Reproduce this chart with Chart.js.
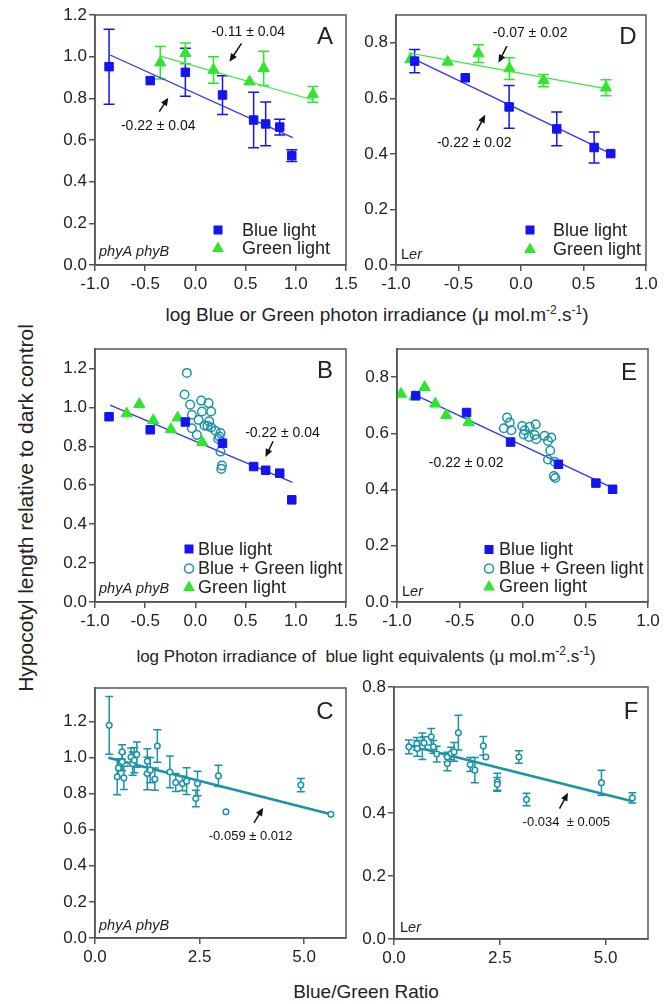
<!DOCTYPE html>
<html>
<head>
<meta charset="utf-8">
<script src="https://cdn.jsdelivr.net/npm/chart.js@4.4.1/dist/chart.umd.min.js"></script>
<style>
  body { margin: 0; background: #fff; }
  #page { position: relative; width: 664px; height: 1004px; overflow: hidden;
          font-family: "Liberation Sans", Arial, sans-serif; color: #222; }
  #page canvas { position: absolute; }
  .title { position: absolute; white-space: nowrap; transform: translate(-50%, -50%);
           font-size: 19px; line-height: 1; }
  .title sup { font-size: 12px; vertical-align: 7px; line-height: 0; }
  #ytitle { transform: translate(-50%, -50%) rotate(-90deg); font-size: 21px; }
</style>
</head>
<body>
<div id="page">
  <div class="title" id="ytitle" style="left:25px; top:508px">Hypocotyl length relative to dark control</div>
  <div class="title" style="left:377px; top:314px">log Blue or Green photon irradiance (μ mol.m<sup>-2</sup>.s<sup>-1</sup>)</div>
  <div class="title" style="left:366px; top:656px; font-size:17px">log Photon irradiance of&nbsp; blue light equivalents (μ mol.m<sup>-2</sup>.s<sup>-1</sup>)</div>
  <div class="title" style="left:366px; top:991px">Blue/Green Ratio</div>
</div>
<script>
// ---- data ----
// A + B, phyA phyB, blue light
const xBlueAB = [-0.86, -0.45, -0.10, 0.27, 0.58, 0.70, 0.84, 0.96];
const yBlueAB = [0.952, 0.885, 0.925, 0.816, 0.696, 0.677, 0.662, 0.525];
const eBlueA = [0.18, 0, 0.115, 0.093, 0.133, 0.105, 0.038, 0.028];
// A, green light
const xGreenA = [-0.35, -0.10, 0.18, 0.54, 0.68, 1.17];
const yGreenA = [0.971, 1.016, 0.936, 0.880, 0.944, 0.819];
const eGreenA = [0.078, 0.05, 0.064, 0, 0.082, 0.038];
// A fitted lines
const xFitBlueA = [-0.85, 0.97], yFitBlueA = [1.008, 0.611];
const xFitGreenA = [-0.35, 1.17], yFitGreenA = [1.003, 0.792];

// D + E, Ler, blue light
const xBlueDE = [-0.851, -0.446, -0.095, 0.286, 0.585, 0.718];
const yBlueDE = [0.734, 0.674, 0.569, 0.490, 0.423, 0.401];
const eBlueD = [0.042, 0, 0.077, 0.061, 0.056, 0];
// D, green light
const xGreenD = [-0.885, -0.587, -0.34, -0.093, 0.18, 0.68];
const yGreenD = [0.740, 0.731, 0.761, 0.707, 0.664, 0.638];
const eGreenD = [0, 0, 0.032, 0.039, 0.022, 0.029];
const xFitBlueD = [-0.851, 0.718], yFitBlueD = [0.740, 0.401];
const xFitGreenD = [-0.90, 0.686], yFitGreenD = [0.764, 0.634];

// B, green light and blue + green light
const xGreenB = [-0.685, -0.559, -0.42, -0.244, -0.177, 0.068];
const yGreenB = [0.968, 1.016, 0.933, 0.887, 0.947, 0.821];
const xMixB = [-0.085, -0.108, -0.052, 0.058, 0.131, -0.035, 0.065, 0.157, 0.032, 0.137, -0.035,
               0.091, 0.157, 0.015, 0.20, 0.25, 0.227, 0.25, 0.264, 0.257, 0.12, 0.24];
const yMixB = [1.177, 1.066, 1.014, 1.035, 1.022, 0.962, 0.979, 0.979, 0.936, 0.928, 0.893,
               0.907, 0.897, 0.859, 0.880, 0.868, 0.838, 0.773, 0.701, 0.684, 0.905, 0.850];
const xFitB = [-0.85, 0.967], yFitB = [1.012, 0.615];

// E, green light and blue + green light
const xGreenE = [-0.968, -0.86, -0.78, -0.695, -0.608, -0.43];
const yGreenE = [0.740, 0.730, 0.764, 0.705, 0.664, 0.639];
const xMixE = [-0.123, -0.102, -0.149, -0.089, -0.002, 0.017, 0.057, 0.105, 0.01, 0.052,
               0.097, 0.11, 0.176, 0.229, 0.203, 0.221, 0.203, 0.256, 0.25, 0.262];
const yMixE = [0.656, 0.638, 0.618, 0.611, 0.626, 0.611, 0.623, 0.632, 0.596, 0.587,
               0.594, 0.579, 0.591, 0.585, 0.573, 0.539, 0.507, 0.499, 0.448, 0.441];
const xFitE = [-0.86, 0.709], yFitE = [0.738, 0.408];

// C, phyA phyB, blue/green ratio
const xRatioC = [0.34, 0.53, 0.56, 0.65, 0.65, 0.69, 0.86, 0.90, 0.94, 1.00, 1.25, 1.25, 1.32,
                 1.43, 1.49, 1.79, 1.93, 2.09, 2.19, 2.45, 2.41, 2.95, 3.13, 4.92, 5.64];
const yRatioC = [1.178, 0.893, 0.942, 1.031, 0.976, 0.887, 1.003, 0.966, 0.985, 1.016, 0.979, 0.911, 0.930,
                 0.880, 1.064, 0.920, 0.861, 0.856, 0.869, 0.856, 0.773, 0.898, 0.699, 0.847, 0.685];
const eRatioC = [0.16, 0.10, 0.05, 0.04, 0.05, 0.065, 0.05, 0.064, 0.07, 0.07, 0.07, 0.09, 0.07,
                 0.062, 0.09, 0.088, 0.05, 0.04, 0.074, 0.068, 0.046, 0.059, 0, 0.037, 0];
const xFitC = [0.32, 5.64], yFitC = [0.999, 0.685];

// F, Ler, blue/green ratio
const xRatioF = [0.35, 0.54, 0.55, 0.67, 0.71, 0.88, 0.93, 1.01, 1.26, 1.26, 1.35, 1.42,
                 1.52, 1.80, 1.91, 2.11, 2.17, 2.44, 2.44, 2.95, 3.13, 4.90, 5.63];
const yRatioF = [0.610, 0.620, 0.605, 0.612, 0.622, 0.642, 0.610, 0.587, 0.578, 0.557, 0.589, 0.594,
                 0.655, 0.554, 0.536, 0.613, 0.578, 0.499, 0.491, 0.578, 0.443, 0.496, 0.448];
const eRatioF = [0.022, 0.02, 0.025, 0.042, 0.02, 0.026, 0.02, 0.025, 0.015, 0.023, 0.02, 0.03,
                 0.055, 0.022, 0.04, 0.03, 0, 0.027, 0.022, 0.02, 0.02, 0.04, 0.016];
const xFitF = [0.30, 5.63], yFitF = [0.617, 0.437];

// tick labels
const xTicksLogA = [-1.0, -0.5, 0.0, 0.5, 1.0, 1.5];
const xTicksLogD = [-1.0, -0.5, 0.0, 0.5, 1.0];
const xTicksRatio = [0.0, 2.5, 5.0];
const yTicksTall = [0.0, 0.2, 0.4, 0.6, 0.8, 1.0, 1.2];
const yTicksShort = [0.0, 0.2, 0.4, 0.6, 0.8];

// ---- drawing ----
const FONT = '"Liberation Sans", Arial, sans-serif';
const BLUE = "#1414f0", GREEN = "#2ee62e", TEAL = "#1b93a6", INK = "#222", FRAME = "#555";

function pts(xs, ys) {
  return xs.map((x, i) => ({x: x, y: ys[i]}));
}

function squares(xs, ys, errs) {
  return {data: pts(xs, ys), errors: errs, cap: 5.5, pointStyle: "rect", pointRadius: 6,
    pointBackgroundColor: BLUE, borderColor: BLUE, pointBorderWidth: 1};
}

function triangles(xs, ys, errs) {
  return {data: pts(xs, ys), errors: errs, cap: 5.5, pointStyle: "triangle", pointRadius: 6.5,
    pointBackgroundColor: GREEN, borderColor: GREEN, pointBorderWidth: 1};
}

function circles(xs, ys, errs, r, fill) {
  return {data: pts(xs, ys), errors: errs, cap: 4, pointStyle: "circle", pointRadius: r,
    pointBackgroundColor: fill, borderColor: TEAL, pointBorderWidth: 1.5};
}

function fit(xs, ys, color, width) {
  return {data: pts(xs, ys), showLine: true, pointRadius: 0, borderColor: color, borderWidth: width};
}

function marker(ctx, kind, x, y) {
  ctx.save();
  ctx.beginPath();
  if (kind === "square") {
    ctx.fillStyle = BLUE;
    ctx.rect(x - 4.5, y - 4.5, 9, 9);
    ctx.fill();
  } else if (kind === "triangle") {
    ctx.fillStyle = GREEN;
    ctx.moveTo(x, y - 6.5);
    ctx.lineTo(x + 6, y + 4);
    ctx.lineTo(x - 6, y + 4);
    ctx.closePath();
    ctx.fill();
  } else {
    ctx.strokeStyle = TEAL;
    ctx.lineWidth = 1.5;
    ctx.arc(x, y, 4.5, 0, Math.PI * 2);
    ctx.stroke();
  }
  ctx.restore();
}

function arrow(ctx, x1, y1, x2, y2) {
  const a = Math.atan2(y2 - y1, x2 - x1), L = 8, W = 3.5;
  ctx.beginPath();
  ctx.moveTo(x1, y1);
  ctx.lineTo(x2 - L * 0.7 * Math.cos(a), y2 - L * 0.7 * Math.sin(a));
  ctx.stroke();
  ctx.beginPath();
  ctx.moveTo(x2, y2);
  ctx.lineTo(x2 - L * Math.cos(a) + W * Math.sin(a), y2 - L * Math.sin(a) - W * Math.cos(a));
  ctx.lineTo(x2 - L * Math.cos(a) - W * Math.sin(a), y2 - L * Math.sin(a) + W * Math.cos(a));
  ctx.closePath();
  ctx.fill();
}

// error bars, frame, letters and notes
function deco(p) {
  return {
    id: "deco",
    beforeDatasetsDraw(chart) {
      const ctx = chart.ctx, sx = chart.scales.x, sy = chart.scales.y;
      chart.data.datasets.forEach((ds) => {
        if (!ds.errors) return;
        ctx.save();
        ctx.strokeStyle = ds.borderColor;
        ctx.lineWidth = 1.5;
        ds.data.forEach((d, i) => {
          const e = ds.errors[i];
          if (!e) return;
          const px = sx.getPixelForValue(d.x);
          const top = sy.getPixelForValue(d.y + e), bot = sy.getPixelForValue(d.y - e);
          ctx.beginPath();
          ctx.moveTo(px, top); ctx.lineTo(px, bot);
          ctx.moveTo(px - ds.cap, top); ctx.lineTo(px + ds.cap, top);
          ctx.moveTo(px - ds.cap, bot); ctx.lineTo(px + ds.cap, bot);
          ctx.stroke();
        });
        ctx.restore();
      });
    },
    afterDraw(chart) {
      const ctx = chart.ctx, a = chart.chartArea, sx = chart.scales.x, sy = chart.scales.y;
      ctx.save();
      ctx.strokeStyle = FRAME;
      ctx.lineWidth = 1.5;
      ctx.strokeRect(a.left, a.top, a.right - a.left, a.bottom - a.top);

      ctx.fillStyle = INK;
      ctx.textAlign = "center";
      ctx.textBaseline = "middle";
      ctx.font = "24px " + FONT;
      ctx.fillText(p.letter[0], a.right + p.letter[1], a.top + p.letter[2]);

      // genotype
      ctx.textAlign = "left";
      let gx = a.left + p.geno.dx;
      p.geno.parts.forEach(([txt, style]) => {
        ctx.font = style + " 14.5px " + FONT;
        ctx.fillText(txt, gx, a.bottom + p.geno.dy);
        gx += ctx.measureText(txt).width;
      });

      // slope notes
      ctx.textAlign = "center";
      ctx.font = p.noteSize + "px " + FONT;
      ctx.strokeStyle = "#111";
      ctx.fillStyle = "#111";
      ctx.lineWidth = 1.5;
      p.notes.forEach((n) => {
        ctx.fillText(n.text, sx.getPixelForValue(n.x), sy.getPixelForValue(n.y));
        if (n.arrow) {
          arrow(ctx, sx.getPixelForValue(n.arrow[0]), sy.getPixelForValue(n.arrow[1]),
            sx.getPixelForValue(n.arrow[2]), sy.getPixelForValue(n.arrow[3]));
        }
      });

      // legend
      if (p.legend) {
        ctx.textAlign = "left";
        ctx.fillStyle = INK;
        ctx.font = "18px " + FONT;
        p.legend.items.forEach(([kind, label], i) => {
          const y = a.bottom + p.legend.rows[i];
          marker(ctx, kind, a.left + p.legend.mx, y);
          ctx.fillText(label, a.left + p.legend.tx, y + 1);
        });
      }
      ctx.restore();
    }
  };
}

function makePanel(p) {
  const padT = 14, padR = 22, yW = 60, xH = 34;
  const [l, t, r, b] = p.area;
  const w = r - l + yW + padR, h = b - t + padT + xH;
  const canvas = document.createElement("canvas");
  canvas.width = w;
  canvas.height = h;
  canvas.style.left = (l - yW) + "px";
  canvas.style.top = (t - padT) + "px";
  canvas.style.width = w + "px";
  canvas.style.height = h + "px";
  document.getElementById("page").appendChild(canvas);

  const tickFont = {family: FONT, size: 17};
  new Chart(canvas, {
    type: "scatter",
    data: {datasets: p.datasets},
    options: {
      responsive: false,
      animation: false,
      devicePixelRatio: 1,
      events: [],
      layout: {padding: {top: padT, right: padR, left: 0, bottom: 0}},
      plugins: {legend: {display: false}, tooltip: {enabled: false}},
      scales: {
        x: {
          type: "linear", min: p.xMin, max: p.xMax,
          afterBuildTicks: (s) => { s.ticks = p.xTicks.map((v) => ({value: v})); },
          afterFit: (s) => { s.height = xH; },
          grid: {drawOnChartArea: false, tickLength: 6, color: FRAME, lineWidth: 1.5},
          border: {display: true, color: FRAME, width: 1.5},
          ticks: {color: INK, font: tickFont, padding: 3, maxRotation: 0, autoSkip: false,
            callback: (v) => v.toFixed(1)}
        },
        y: {
          type: "linear", min: 0, max: p.yMax,
          afterBuildTicks: (s) => { s.ticks = p.yTicks.map((v) => ({value: v})); },
          afterFit: (s) => { s.width = yW; },
          grid: {drawOnChartArea: false, tickLength: 6, color: FRAME, lineWidth: 1.5},
          border: {display: true, color: FRAME, width: 1.5},
          ticks: {color: INK, font: tickFont, padding: 2, autoSkip: false,
            callback: (v) => v.toFixed(1)}
        }
      }
    },
    plugins: [deco(p)]
  });
}

const phyAB = {dx: 4, parts: [["phyA phyB", "italic"]]};
const ler = (dx, dy) => ({dx: dx, dy: dy, parts: [["L", "normal"], ["er", "italic"]]});

makePanel({
  area: [95, 15, 346, 265], xMin: -1, xMax: 1.5, xTicks: xTicksLogA, yMax: 1.2, yTicks: yTicksTall,
  letter: ["A", -21, 22], geno: Object.assign({dy: -13}, phyAB), noteSize: 14,
  notes: [
    {text: "-0.11 ± 0.04", x: 0.526, y: 1.12, arrow: [0.459, 1.064, 0.34, 0.976]},
    {text: "-0.22 ± 0.04", x: -0.37, y: 0.667, arrow: [-0.36, 0.736, -0.27, 0.803]}
  ],
  legend: {mx: 123, tx: 147, rows: [-35, -17], items: [["square", "Blue light"], ["triangle", "Green light"]]},
  datasets: [
    squares(xBlueAB, yBlueAB, eBlueA),
    triangles(xGreenA, yGreenA, eGreenA),
    fit(xFitBlueA, yFitBlueA, "#3535ee", 1.3),
    fit(xFitGreenA, yFitGreenA, "#3ee83e", 1.3)
  ]
});

makePanel({
  area: [396, 15, 646, 265], xMin: -1, xMax: 1, xTicks: xTicksLogD, yMax: 0.9, yTicks: yTicksShort,
  letter: ["D", -18, 22], geno: ler(5, -10), noteSize: 14,
  notes: [
    {text: "-0.07 ± 0.02", x: 0.073, y: 0.836, arrow: [-0.113, 0.788, -0.18, 0.728]},
    {text: "-0.22 ± 0.02", x: -0.374, y: 0.437, arrow: [-0.353, 0.484, -0.286, 0.541]}
  ],
  legend: {mx: 134, tx: 157, rows: [-35, -16], items: [["square", "Blue light"], ["triangle", "Green light"]]},
  datasets: [
    squares(xBlueDE, yBlueDE, eBlueD),
    triangles(xGreenD, yGreenD, eGreenD),
    fit(xFitBlueD, yFitBlueD, "#3535ee", 1.3),
    fit(xFitGreenD, yFitGreenD, "#3ee83e", 1.3)
  ]
});

makePanel({
  area: [95, 349, 346, 602], xMin: -1, xMax: 1.5, xTicks: xTicksLogA, yMax: 1.3, yTicks: yTicksTall,
  letter: ["B", -21, 22], geno: Object.assign({dy: -13.5}, phyAB), noteSize: 14,
  notes: [{text: "-0.22 ± 0.04", x: 0.867, y: 0.869, arrow: [0.774, 0.826, 0.698, 0.745]}],
  legend: {mx: 94, tx: 103, rows: [-53, -33.5, -15],
    items: [["square", "Blue light"], ["circle", "Blue + Green light"], ["triangle", "Green light"]]},
  datasets: [
    squares(xBlueAB, yBlueAB, null),
    triangles(xGreenB, yGreenB, null),
    circles(xMixB, yMixB, null, 4.3, "rgba(0,0,0,0)"),
    fit(xFitB, yFitB, "#3535ee", 1.3)
  ]
});

makePanel({
  area: [397, 349, 648, 602], xMin: -1, xMax: 1, xTicks: xTicksLogD, yMax: 0.9, yTicks: yTicksShort,
  letter: ["E", -19, 24], geno: ler(5, -10), noteSize: 14,
  notes: [{text: "-0.22 ± 0.02", x: -0.449, y: 0.494}],
  legend: {mx: 92, tx: 102, rows: [-52.5, -33.5, -15.5],
    items: [["square", "Blue light"], ["circle", "Blue + Green light"], ["triangle", "Green light"]]},
  datasets: [
    squares(xBlueDE, yBlueDE, null),
    triangles(xGreenE, yGreenE, null),
    circles(xMixE, yMixE, null, 4.3, "rgba(0,0,0,0)"),
    fit(xFitE, yFitE, "#3535ee", 1.3)
  ]
});

makePanel({
  area: [95, 688, 346, 938], xMin: 0, xMax: 6, xTicks: xTicksRatio, yMax: 1.385, yTicks: yTicksTall,
  letter: ["C", -21, 24], geno: Object.assign({dy: -12}, phyAB), noteSize: 13,
  notes: [{text: "-0.059 ± 0.012", x: 3.72, y: 0.565, arrow: [3.8, 0.638, 4.02, 0.721]}],
  datasets: [
    circles(xRatioC, yRatioC, eRatioC, 2.8, "#fff"),
    fit(xFitC, yFitC, TEAL, 2.6)
  ]
});

makePanel({
  area: [394, 687, 648, 939], xMin: 0, xMax: 6, xTicks: xTicksRatio, yMax: 0.8, yTicks: yTicksShort,
  letter: ["F", -17, 25], geno: ler(6, -11), noteSize: 13,
  notes: [{text: "-0.034  ± 0.005", x: 4.07, y: 0.369, arrow: [3.91, 0.414, 4.11, 0.464]}],
  datasets: [
    circles(xRatioF, yRatioF, eRatioF, 2.8, "#fff"),
    fit(xFitF, yFitF, TEAL, 2.6)
  ]
});
</script>
</body>
</html>
